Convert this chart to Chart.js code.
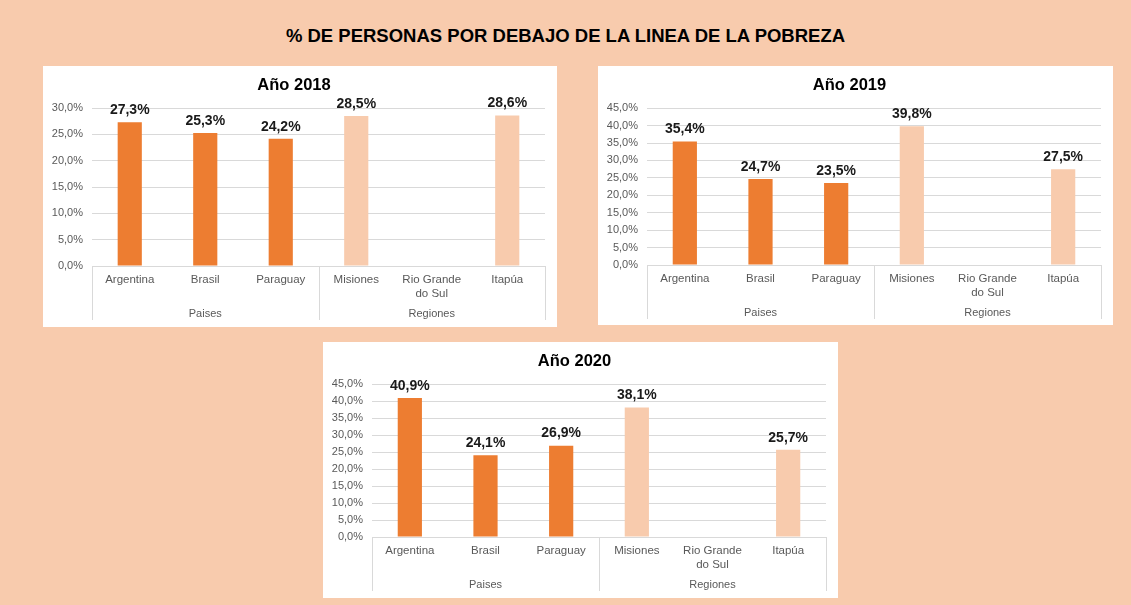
<!DOCTYPE html>
<html>
<head>
<meta charset="utf-8">
<script src="https://cdn.jsdelivr.net/npm/chart.js@4/dist/chart.umd.min.js"></script>
<style>
  body { margin: 0; background: #F8CBAD; font-family: "Liberation Sans", Arial, sans-serif; }
  #page { position: relative; width: 1131px; height: 605px; overflow: hidden; }
  #titulo { position: absolute; left: 0; top: 26px; width: 1131px; text-align: center;
            font-weight: bold; font-size: 18.5px; line-height: 20px; color: #000; }
  .panel { position: absolute; background: #fff; }
  .panel canvas { display: block; }
</style>
</head>
<body>
<div id="page">
  <div id="titulo">% DE PERSONAS POR DEBAJO DE LA LINEA DE LA POBREZA</div>
  <div class="panel" style="left:43px;top:66px;width:514px;height:261px;"><canvas id="g2018" width="514" height="261"></canvas></div>
  <div class="panel" style="left:598px;top:66px;width:515px;height:259px;"><canvas id="g2019" width="515" height="259"></canvas></div>
  <div class="panel" style="left:323px;top:342px;width:515px;height:256px;"><canvas id="g2020" width="515" height="256"></canvas></div>
</div>
<script>
// datos
const categorias = ["Argentina", "Brasil", "Paraguay", "Misiones", ["Rio Grande", "do Sul"], "Itapúa"];
const grupos = ["Paises", "Regiones"];
const tamGrupos = [3, 3];
const valores2018 = [27.3, 25.3, 24.2, 28.5, null, 28.6];
const valores2019 = [35.4, 24.7, 23.5, 39.8, null, 27.5];
const valores2020 = [40.9, 24.1, 26.9, 38.1, null, 25.7];

const NARANJA = "#ED7D31";
const DURAZNO = "#F8CBAD";
const coloresBarras = [NARANJA, NARANJA, NARANJA, DURAZNO, DURAZNO, DURAZNO];

Chart.defaults.font.family = "'Liberation Sans', Arial, sans-serif";

const formato = (v) => v.toFixed(1).replace(".", ",") + "%";

// etiquetas de valor + segundo nivel del eje (Paises / Regiones)
const etiquetasPlugin = {
  id: "etiquetas",
  afterDatasetsDraw(chart) {
    const ctx = chart.ctx;
    const meta = chart.getDatasetMeta(0);
    const datos = chart.data.datasets[0].data;
    ctx.save();
    ctx.font = "bold 14px 'Liberation Sans', Arial, sans-serif";
    ctx.fillStyle = "#1a1a1a";
    ctx.textAlign = "center";
    ctx.textBaseline = "bottom";
    meta.data.forEach((bar, i) => {
      if (datos[i] == null) return;
      ctx.fillText(formato(datos[i]), bar.x, bar.y - 5);
    });
    ctx.restore();
  },
  afterDraw(chart) {
    const ctx = chart.ctx;
    const xs = chart.scales.x;
    const abajo = chart.chartArea.bottom;
    const anchoCat = xs.width / categorias.length;
    ctx.save();
    ctx.strokeStyle = "#D9D9D9";
    ctx.lineWidth = 1;
    ctx.fillStyle = "#595959";
    ctx.font = "11px 'Liberation Sans', Arial, sans-serif";
    ctx.textAlign = "center";
    ctx.textBaseline = "middle";
    let inicio = 0;
    const linea = (x) => {
      const px = Math.round(x) + 0.5;
      ctx.beginPath();
      ctx.moveTo(px, abajo);
      ctx.lineTo(px, abajo + 54);
      ctx.stroke();
    };
    linea(xs.left);
    grupos.forEach((g, k) => {
      const fin = inicio + tamGrupos[k];
      const x0 = xs.getPixelForValue(inicio) - anchoCat / 2;
      const x1 = xs.getPixelForValue(fin - 1) + anchoCat / 2;
      linea(x1);
      ctx.fillText(g, (x0 + x1) / 2, abajo + 48);
      inicio = fin;
    });
    ctx.restore();
  }
};

function crearGrafico(id, titulo, valores, maxY, altoX) {
  const ctx = document.getElementById(id).getContext("2d");
  return new Chart(ctx, {
    type: "bar",
    data: {
      labels: categorias,
      datasets: [{
        label: titulo,
        data: valores,
        backgroundColor: coloresBarras,
        borderWidth: 0,
        barPercentage: 0.32,
        categoryPercentage: 1
      }]
    },
    options: {
      responsive: false,
      animation: false,
      layout: { padding: { left: 0, right: 12, top: 0, bottom: 0 } },
      plugins: {
        legend: { display: false },
        tooltip: { enabled: false },
        title: {
          display: true,
          text: titulo,
          color: "#000",
          font: { size: 16.5, weight: "bold", lineHeight: 1.1 },
          padding: { top: 10, bottom: 14 }
        }
      },
      scales: {
        x: {
          grid: { display: false, drawTicks: false },
          border: { display: true, color: "#D9D9D9" },
          ticks: { color: "#595959", font: { size: 11.5, lineHeight: 1.2 }, padding: 7, maxRotation: 0, autoSkip: false },
          afterFit(scale) { scale.height = altoX; }
        },
        y: {
          min: 0,
          max: maxY,
          grid: { color: "#D9D9D9", drawTicks: false },
          border: { display: false },
          ticks: { stepSize: 5, color: "#595959", font: { size: 11 }, padding: 9, callback: (v) => formato(v) },
          afterFit(scale) { scale.width = 49; }
        }
      }
    },
    plugins: [etiquetasPlugin]
  });
}

crearGrafico("g2018", "Año 2018", valores2018, 30, 61);
crearGrafico("g2019", "Año 2019", valores2019, 45, 60);
crearGrafico("g2020", "Año 2020", valores2020, 45, 61);
</script>
</body>
</html>
